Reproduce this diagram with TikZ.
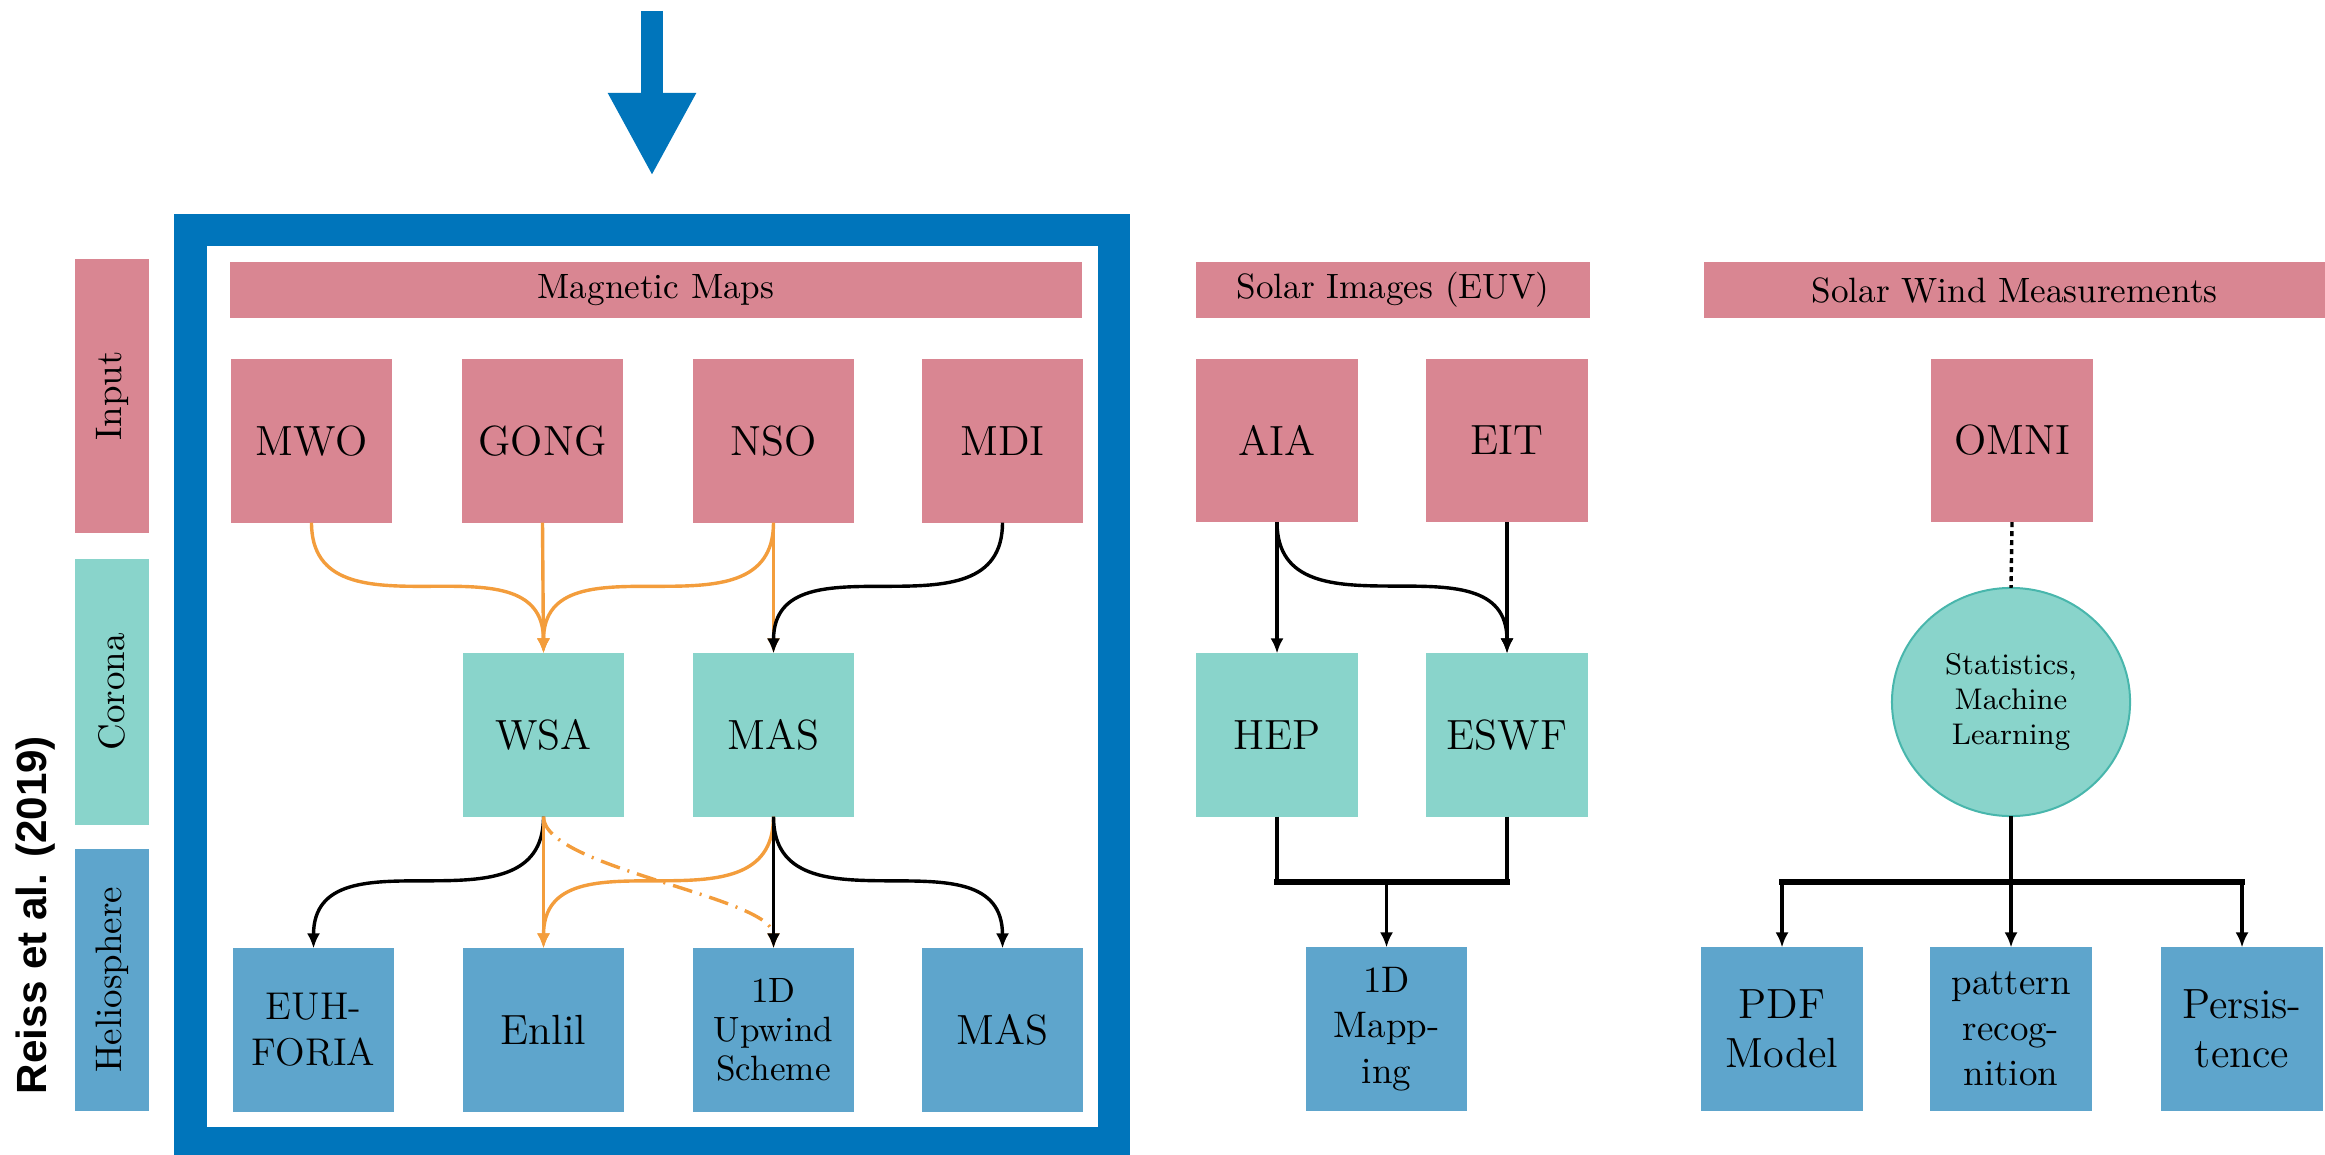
\documentclass[tikz,border=0pt]{standalone}
\usepackage{fontspec}
\newfontfamily\reissfont{Liberation Sans}
\usetikzlibrary{arrows.meta,shapes.geometric}
\definecolor{inpink}{RGB}{217,134,146}
\definecolor{corteal}{RGB}{137,212,203}
\definecolor{helblue}{RGB}{94,165,204}
\definecolor{frameblue}{RGB}{0,117,187}
\definecolor{flowor}{RGB}{243,157,60}
\definecolor{rimteal}{RGB}{72,182,172}
\tikzset{
  box/.style={inner sep=0pt,outer sep=0pt,minimum width=1.61cm,minimum height=1.63cm,align=center,font=\fontsize{12}{14}\selectfont},
  bar/.style={inner sep=0pt,outer sep=0pt,minimum height=0.56cm,fill=inpink,font=\fontsize{10}{12}\selectfont},
  side/.style={inner sep=0pt,outer sep=0pt,minimum height=0.74cm,rotate=90,font=\fontsize{10.5}{12}\selectfont},
  flow/.style={line width=0.034cm,-{Latex[length=0.15cm,width=0.13cm]}},
  wire/.style={line width=0.034cm},
  bus/.style={line width=0.055cm,line cap=rect},
  swoop/.style={out=-90,in=90,looseness=1.2},
}
\begin{document}
\begin{tikzpicture}[x=0.01cm,y=-0.01cm]
\useasboundingbox (0,0) rectangle (2325,1155);
\draw[line width=0.32cm,frameblue] (190.5,230) rectangle (1114,1143);
\coordinate (arrtop) at (652,11);
\coordinate (arrtip) at (652,176);
\draw[line width=0.22cm,frameblue,-{Triangle[length=0.83cm,width=0.82cm]}] (arrtop) -- (arrtip);
\coordinate (busy) at (0,882);

\draw (36,915) node[rotate=90,inner sep=0pt,font=\reissfont\bfseries\fontsize{12}{14}\selectfont] (Reiss) {Reiss et al. (2019)};
\draw (112,396) node[side,fill=inpink,minimum width=2.74cm] (Lin) {Input};
\draw (112,692) node[side,fill=corteal,minimum width=2.65cm] (Lcor) {Corona};
\draw (112,980) node[side,fill=helblue,minimum width=2.62cm] (Lhel) {Heliosphere};

\draw (656,290) node[bar,minimum width=8.52cm] (MagMaps) {Magnetic Maps};
\draw (1393,290) node[bar,minimum width=3.94cm] (SolImg) {Solar Images (EUV)};
\draw (2014.5,290) node[bar,minimum width=6.21cm] (SolWind) {Solar Wind Measurements};

\draw (311.5,441) node[box,fill=inpink] (MWO) {MWO};
\draw (542.5,441) node[box,fill=inpink] (GONG) {GONG};
\draw (773.5,441) node[box,fill=inpink] (NSO) {NSO};
\draw (1002.5,441) node[box,fill=inpink] (MDI) {MDI};
\draw (543.5,735) node[box,fill=corteal] (WSA) {WSA};
\draw (773.5,735) node[box,fill=corteal] (MAScor) {MAS};
\draw (313.5,1030) node[box,fill=helblue,font=\fontsize{11}{13}\selectfont] (EUH) {EUH-\\FORIA};
\draw (543.5,1030) node[box,fill=helblue] (Enlil) {Enlil};
\draw (773.5,1030) node[box,fill=helblue,font=\fontsize{10}{11}\selectfont] (Upw) {1D\\Upwind\\Scheme};
\draw (1002.5,1030) node[box,fill=helblue] (MAShel) {MAS};

\draw (1277,440.5) node[box,fill=inpink] (AIA) {AIA};
\draw (1507,440.5) node[box,fill=inpink] (EIT) {EIT};
\draw (1277,735) node[box,fill=corteal] (HEP) {HEP};
\draw (1507,735) node[box,fill=corteal] (ESWF) {ESWF};
\draw (1386.5,1029) node[box,fill=helblue,font=\fontsize{10.5}{13}\selectfont] (Map) {1D\\Mapp-\\ing};

\draw (2012,440.5) node[box,fill=inpink] (OMNI) {OMNI};
\draw (2011,702) node[ellipse,inner sep=0pt,outer sep=0pt,minimum width=2.38cm,minimum height=2.28cm,fill=corteal,draw=rimteal,line width=0.02cm,align=center,font=\fontsize{8.5}{10}\selectfont] (ML) {Statistics,\\Machine\\Learning};
\draw (1782,1029) node[box,fill=helblue,font=\fontsize{12}{14}\selectfont] (PDF) {PDF\\Model};
\draw (2011,1029) node[box,fill=helblue,font=\fontsize{10.5}{13}\selectfont] (Patt) {pattern\\recog-\\nition};
\draw (2242,1029) node[box,fill=helblue,font=\fontsize{12}{14}\selectfont] (Pers) {Persis-\\tence};

\draw[flow,flowor] (MWO.south) to[swoop] (WSA.north);
\draw[flow,flowor] (GONG.south) -- (WSA.north);
\draw[flow,flowor] (NSO.south) to[swoop] (WSA.north);
\draw[flow,flowor] (NSO.south) -- (MAScor.north);
\draw[flow] (MDI.south) to[swoop] (MAScor.north);

\draw[flow] (WSA.south) to[swoop] (EUH.north);
\draw[flow,flowor] (WSA.south) -- (Enlil.north);
\draw[flow,flowor,dash pattern=on 0.2cm off 0.08cm on 0.02cm off 0.08cm] (WSA.south) to[out=-90,in=90,looseness=0.5] (Upw.north);
\draw[flow,flowor] (MAScor.south) to[swoop] (Enlil.north);
\draw[flow] (MAScor.south) -- (Upw.north);
\draw[flow] (MAScor.south) to[swoop] (MAShel.north);

\draw[flow] (AIA.south) -- (HEP.north);
\draw[flow] (AIA.south) to[swoop] (ESWF.north);
\draw[flow] (EIT.south) -- (ESWF.north);
\draw[wire] (HEP.south) -- (HEP.south |- busy);
\draw[wire] (ESWF.south) -- (ESWF.south |- busy);
\draw[bus] (HEP.south |- busy) -- (ESWF.south |- busy);
\draw[flow] (Map.north |- busy) -- (Map.north);

\draw[wire,dash pattern=on 0.05cm off 0.04cm] (OMNI.south) -- (ML.north);
\draw[wire] (ML.south) -- (ML.south |- busy);
\draw[bus] (PDF.north |- busy) -- (Pers.north |- busy);
\foreach \leaf in {PDF,Patt,Pers}
  \draw[flow] (\leaf.north |- busy) -- (\leaf.north);
\end{tikzpicture}
\end{document}
